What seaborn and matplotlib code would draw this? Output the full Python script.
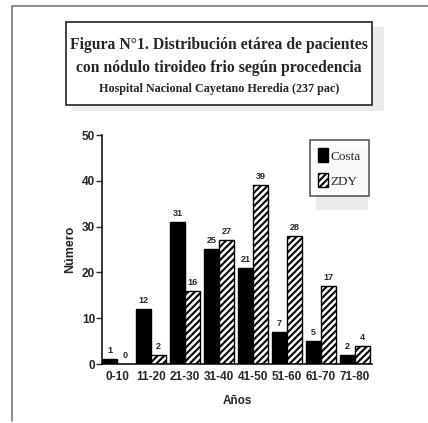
import numpy as np
import pandas as pd
import matplotlib.pyplot as plt
import seaborn as sns
from matplotlib.patches import Rectangle, Patch
from matplotlib.lines import Line2D

edades = ['0-10', '11-20', '21-30', '31-40', '41-50', '51-60', '61-70', '71-80']
costa = [1, 12, 31, 25, 21, 7, 5, 2]
zdy = [0, 2, 16, 27, 39, 28, 17, 4]
grupos = ['Costa', 'ZDY']

df = pd.DataFrame({
    'edad': edades * 2,
    'n': costa + zdy,
    'grupo': ['Costa'] * len(edades) + ['ZDY'] * len(edades),
})

sns.set_style('white')
plt.rcParams['hatch.linewidth'] = 1.5
sans = ['Liberation Sans Narrow', 'Liberation Sans', 'DejaVu Sans']
serif = ['Liberation Serif', 'DejaVu Serif']

fig = plt.figure(figsize=(4.28, 4.23), dpi=100)

# marco exterior
fig.add_artist(Line2D([12/428, 1], [1 - 6/423] * 2, color='#777777', lw=1.2))
fig.add_artist(Line2D([12/428] * 2, [1 - 6/423, 2/423], color='#777777', lw=1.2))

# caja del titulo con sombra
fig.add_artist(Rectangle((72/428, 1 - 111/423), 312/428, 84/423, facecolor='#ebebeb',
                         edgecolor='none', zorder=1))
fig.add_artist(Rectangle((66/428, 1 - 105/423), 306/428, 83/423, facecolor='white',
                         edgecolor='#222222', lw=1.2, zorder=2))
fig.text(219/428, 1 - 45/423, 'Figura N°1. Distribución etárea de pacientes', ha='center', va='center',
         fontsize=11.3, fontweight='bold', family=serif, zorder=3)
fig.text(219/428, 1 - 68/423, 'con nódulo tiroideo frio según procedencia', ha='center', va='center',
         fontsize=11.3, fontweight='bold', family=serif, zorder=3)
fig.text(219/428, 1 - 89/423, 'Hospital Nacional Cayetano Heredia (237 pac)', ha='center', va='center',
         fontsize=8.7, fontweight='bold', family=serif, zorder=3)

ax = fig.add_axes([102/428, 1 - 364/423, 270/428, 229/423])
sns.barplot(data=df, x='edad', y='n', hue='grupo', order=edades, hue_order=grupos,
            palette=['black', 'white'], width=0.88, gap=0, edgecolor='black', linewidth=1.0,
            legend=False, ax=ax)

for i, p in enumerate(ax.patches):
    if i >= len(edades) and i < 2 * len(edades):
        p.set_hatch('/////')

for cont in ax.containers:
    ax.bar_label(cont, fontsize=6.5, fontweight='bold', family=sans, padding=3)

ax.set_ylim(0, 50)
ax.set_xlim(-0.45, 7.5)
ax.set_yticks([0, 10, 20, 30, 40, 50])
ax.tick_params(axis='y', direction='out', length=4, width=1, left=True, labelsize=8.5, pad=1)
ax.tick_params(axis='x', length=0, labelsize=8.5, pad=5)
for lab in ax.get_xticklabels() + ax.get_yticklabels():
    lab.set_family(sans)
    lab.set_fontweight('bold')
sns.despine(ax=ax)
for s in ['left', 'bottom']:
    ax.spines[s].set_color('black')
    ax.spines[s].set_linewidth(1.1)
ax.set_xlabel('Años', fontsize=8.5, fontweight='bold', family=sans, labelpad=9)
ax.set_ylabel('Número', fontsize=9, fontweight='bold', family=sans, labelpad=4)
ax.set_facecolor('white')

# leyenda con sombra
fig.add_artist(Rectangle((316/428, 1 - 210/423), 52/428, 63/423, facecolor='#ebebeb',
                         edgecolor='none', zorder=5))
leg = fig.legend(handles=[Patch(facecolor='black', edgecolor='black', label='Costa'),
                          Patch(facecolor='white', edgecolor='black', hatch='/////', label='ZDY')],
                 loc='upper left', bbox_to_anchor=(310/428, 1 - 140/423), frameon=True,
                 fancybox=False, edgecolor='#222222', handlelength=0.8, handleheight=1.3,
                 handletextpad=0.15, borderpad=0.6, labelspacing=0.8, borderaxespad=0,
                 prop={'family': serif, 'size': 9.5})
leg.get_frame().set_linewidth(1.1)
leg.set_zorder(6)

fig.savefig('out.png', dpi=100, facecolor='white')
